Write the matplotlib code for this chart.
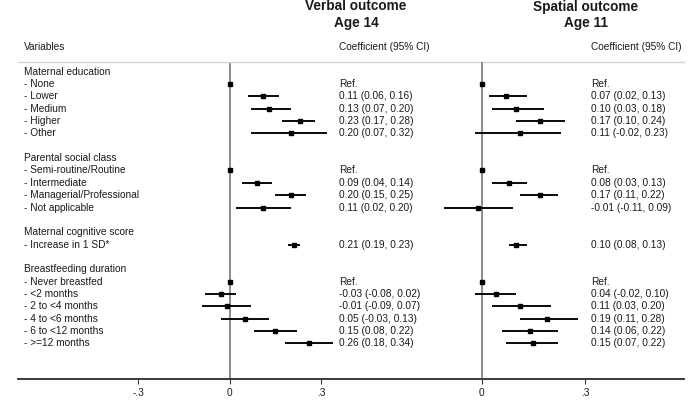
import matplotlib
matplotlib.use("Agg")
import matplotlib.pyplot as plt
from matplotlib.transforms import blended_transform_factory

plt.rcParams['font.family'] = ['Liberation Sans', 'DejaVu Sans']

labels = ["Maternal education", "- None", "- Lower", "- Medium", "- Higher", "- Other", "",
          "Parental social class", "- Semi-routine/Routine", "- Intermediate",
          "- Managerial/Professional", "- Not applicable", "",
          "Maternal cognitive score", "- Increase in 1 SD*", "",
          "Breastfeeding duration", "- Never breastfed", "- <2 months", "- 2 to <4 months",
          "- 4 to <6 months", "- 6 to <12 months", "- >=12 months"]
is_ref = [False, True, False, False, False, False, False,
          False, True, False, False, False, False,
          False, False, False,
          False, True, False, False, False, False, False]

N = None
verbal_est = [N, 0, 0.11, 0.13, 0.23, 0.20, N, N, 0, 0.09, 0.20, 0.11, N, N, 0.21, N, N, 0, -0.03, -0.01, 0.05, 0.15, 0.26]
verbal_lo = [N, 0, 0.06, 0.07, 0.17, 0.07, N, N, 0, 0.04, 0.15, 0.02, N, N, 0.19, N, N, 0, -0.08, -0.09, -0.03, 0.08, 0.18]
verbal_hi = [N, 0, 0.16, 0.20, 0.28, 0.32, N, N, 0, 0.14, 0.25, 0.20, N, N, 0.23, N, N, 0, 0.02, 0.07, 0.13, 0.22, 0.34]

spatial_est = [N, 0, 0.07, 0.10, 0.17, 0.11, N, N, 0, 0.08, 0.17, -0.01, N, N, 0.10, N, N, 0, 0.04, 0.11, 0.19, 0.14, 0.15]
spatial_lo = [N, 0, 0.02, 0.03, 0.10, -0.02, N, N, 0, 0.03, 0.11, -0.11, N, N, 0.08, N, N, 0, -0.02, 0.03, 0.11, 0.06, 0.07]
spatial_hi = [N, 0, 0.13, 0.18, 0.24, 0.23, N, N, 0, 0.13, 0.22, 0.09, N, N, 0.13, N, N, 0, 0.10, 0.20, 0.28, 0.22, 0.22]

verbal_ticks = [-0.3, 0, 0.3]
verbal_ticklabels = ["-.3", "0", ".3"]
spatial_ticks = [0, 0.3]
spatial_ticklabels = ["0", ".3"]

W, H = 698, 418
fig = plt.figure(figsize=(W / 100, H / 100), dpi=100)

ax_left_px, ax_right_px = 18, 684
ax_top_px, ax_bot_px = 62, 379.3
pos = [ax_left_px / W, (H - ax_bot_px) / H, (ax_right_px - ax_left_px) / W, (ax_bot_px - ax_top_px) / H]

nrows = len(labels)
row_px = 12.35
ylim = (22 + (ax_bot_px - 343.3) / row_px, -(71.7 - ax_top_px) / row_px)

FS = 7.3
TXT = '#1a1a1a'


def make_ax(zero_px, px_per_unit, ticks, ticklabels, top_spine):
    ax = fig.add_axes(pos)
    ax.patch.set_alpha(0)
    ax.set_xlim((ax_left_px - zero_px) / px_per_unit, (ax_right_px - zero_px) / px_per_unit)
    ax.set_ylim(*ylim)
    for s in ['left', 'right']:
        ax.spines[s].set_visible(False)
    ax.spines['top'].set_visible(top_spine)
    ax.spines['top'].set_color('#d4d4d4')
    ax.spines['top'].set_linewidth(1.0)
    ax.spines['bottom'].set_color('#333333')
    ax.spines['bottom'].set_linewidth(1.1)
    ax.set_yticks([])
    ax.set_xticks(ticks)
    ax.set_xticklabels(ticklabels)
    ax.tick_params(axis='x', direction='out', length=3.5, width=0.8, color='#333333',
                   labelsize=FS, labelcolor=TXT, pad=2.5)
    ax.axvline(0, color='#8a8a8a', lw=1.4, zorder=1)
    return ax


ax1 = make_ax(229.7, 305.0, verbal_ticks, verbal_ticklabels, True)
ax2 = make_ax(481.7, 345.3, spatial_ticks, spatial_ticklabels, False)


def draw(ax, est, lo, hi):
    for i in range(nrows):
        if est[i] is None:
            continue
        ax.plot([lo[i], hi[i]], [i, i], color='black', lw=1.35, solid_capstyle='butt', zorder=2)
        ax.plot([est[i]], [i], marker='s', color='black', ms=3.5, zorder=3)


draw(ax1, verbal_est, verbal_lo, verbal_hi)
draw(ax2, spatial_est, spatial_lo, spatial_hi)

tr = blended_transform_factory(fig.transFigure, ax1.transData)


def coef_text(est, lo, hi, i):
    if est[i] is None:
        return ""
    if is_ref[i]:
        return "Ref."
    return f"{est[i]:.2f} ({lo[i]:.2f}, {hi[i]:.2f})"


for i, lab in enumerate(labels):
    fig.text(24 / W, i, lab, transform=tr, ha='left', va='center', fontsize=FS, color=TXT)
    t1 = coef_text(verbal_est, verbal_lo, verbal_hi, i)
    t2 = coef_text(spatial_est, spatial_lo, spatial_hi, i)
    fig.text(339.3 / W, i, t1, transform=tr, ha='left', va='center', fontsize=FS, color=TXT)
    fig.text(591 / W, i, t2, transform=tr, ha='left', va='center', fontsize=FS, color=TXT)

# header row
fig.text(24 / W, 1 - 47.3 / H, "Variables", ha='left', va='center', fontsize=FS, color=TXT)
fig.text(339.3 / W, 1 - 47.3 / H, "Coefficient (95% CI)", ha='left', va='center', fontsize=FS, color=TXT)
fig.text(591 / W, 1 - 47.3 / H, "Coefficient (95% CI)", ha='left', va='center', fontsize=FS, color=TXT)

# titles
TFS = 9.8
fig.text(356 / W, 1 - 10.5 / H, "Verbal outcome", ha='center', va='baseline', fontsize=TFS,
         fontweight='bold', color=TXT)
fig.text(356 / W, 1 - 27 / H, "Age 14", ha='center', va='baseline', fontsize=TFS,
         fontweight='bold', color=TXT)
fig.text(585.5 / W, 1 - 10.5 / H, "Spatial outcome", ha='center', va='baseline', fontsize=TFS,
         fontweight='bold', color=TXT)
fig.text(585.5 / W, 1 - 27 / H, "Age 11", ha='center', va='baseline', fontsize=TFS,
         fontweight='bold', color=TXT)

fig.savefig("out.png", dpi=100, facecolor='white')
